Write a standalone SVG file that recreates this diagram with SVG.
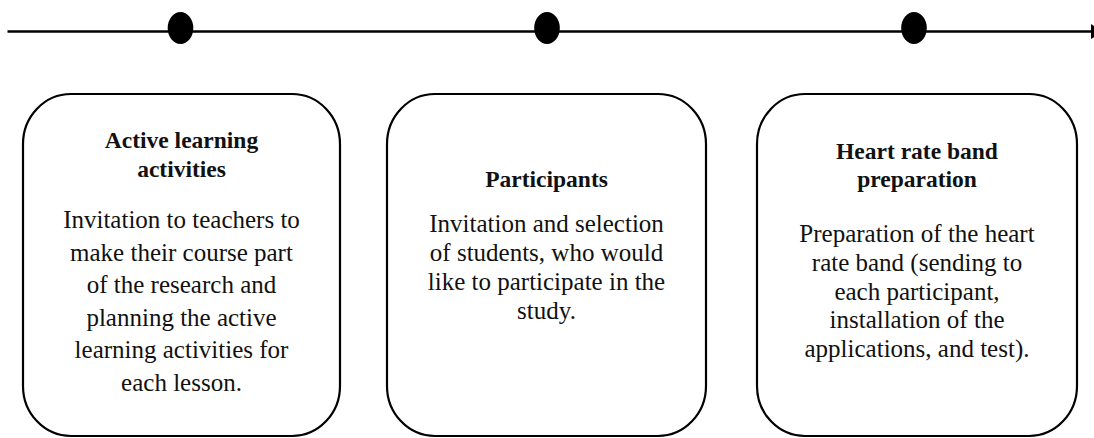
<svg xmlns="http://www.w3.org/2000/svg" width="1094" height="438" viewBox="0 0 1094 438">
  <style>
    .box { fill: #ffffff; stroke: #000000; stroke-width: 2.2; }
    .title { font-family: "Liberation Serif", "Times New Roman", serif; font-weight: bold; font-size: 23.5px; fill: #111111; text-anchor: middle; }
    .body { font-family: "Liberation Serif", "Times New Roman", serif; font-size: 25px; fill: #111111; text-anchor: middle; }
    .axis { stroke: #000000; stroke-width: 2.6; fill: none; }
    .dot { fill: #000000; }
  </style>
  <defs>
    <marker id="arrow" markerWidth="8" markerHeight="8" refX="0" refY="4" orient="auto" markerUnits="userSpaceOnUse" viewBox="0 0 8 8">
      <path d="M0,0 L8,4 L0,8 Z" fill="#000000"/>
    </marker>
  </defs>
  <rect width="1094" height="438" fill="#ffffff"/>
  <g id="connectors">
    <line class="axis" x1="7.5" y1="31.5" x2="1091" y2="31.5"/>
    <path d="M1091,24 L1103,31.5 L1091,39 Z" fill="#000000"/>
    <ellipse class="dot" cx="180.5" cy="28" rx="12.8" ry="16"/>
    <ellipse class="dot" cx="547" cy="28" rx="12.8" ry="16"/>
    <ellipse class="dot" cx="914" cy="28" rx="12.8" ry="16"/>
  </g>
  <g id="node-active-learning">
    <rect class="box" x="23" y="94" width="317" height="342" rx="48" ry="50"/>
    <text class="title" x="181.5" y="148">Active learning</text>
    <text class="title" x="181.5" y="177">activities</text>
    <text class="body" x="181.5" y="228">Invitation to teachers to</text>
    <text class="body" x="181.5" y="261">make their course part</text>
    <text class="body" x="181.5" y="293">of the research and</text>
    <text class="body" x="181.5" y="326">planning the active</text>
    <text class="body" x="181.5" y="358">learning activities for</text>
    <text class="body" x="181.5" y="391">each lesson.</text>
  </g>
  <g id="node-participants">
    <rect class="box" x="387" y="94" width="319" height="342" rx="48" ry="50"/>
    <text class="title" x="546.5" y="187">Participants</text>
    <text class="body" x="546.5" y="232">Invitation and selection</text>
    <text class="body" x="546.5" y="261">of students, who would</text>
    <text class="body" x="546.5" y="290">like to participate in the</text>
    <text class="body" x="546.5" y="319">study.</text>
  </g>
  <g id="node-heart-rate">
    <rect class="box" x="757" y="94" width="320" height="342" rx="48" ry="50"/>
    <text class="title" x="917" y="159">Heart rate band</text>
    <text class="title" x="917" y="187">preparation</text>
    <text class="body" x="917" y="242">Preparation of the heart</text>
    <text class="body" x="917" y="271">rate band (sending to</text>
    <text class="body" x="917" y="299.5">each participant,</text>
    <text class="body" x="917" y="328">installation of the</text>
    <text class="body" x="917" y="356.5">applications, and test).</text>
  </g>
</svg>
